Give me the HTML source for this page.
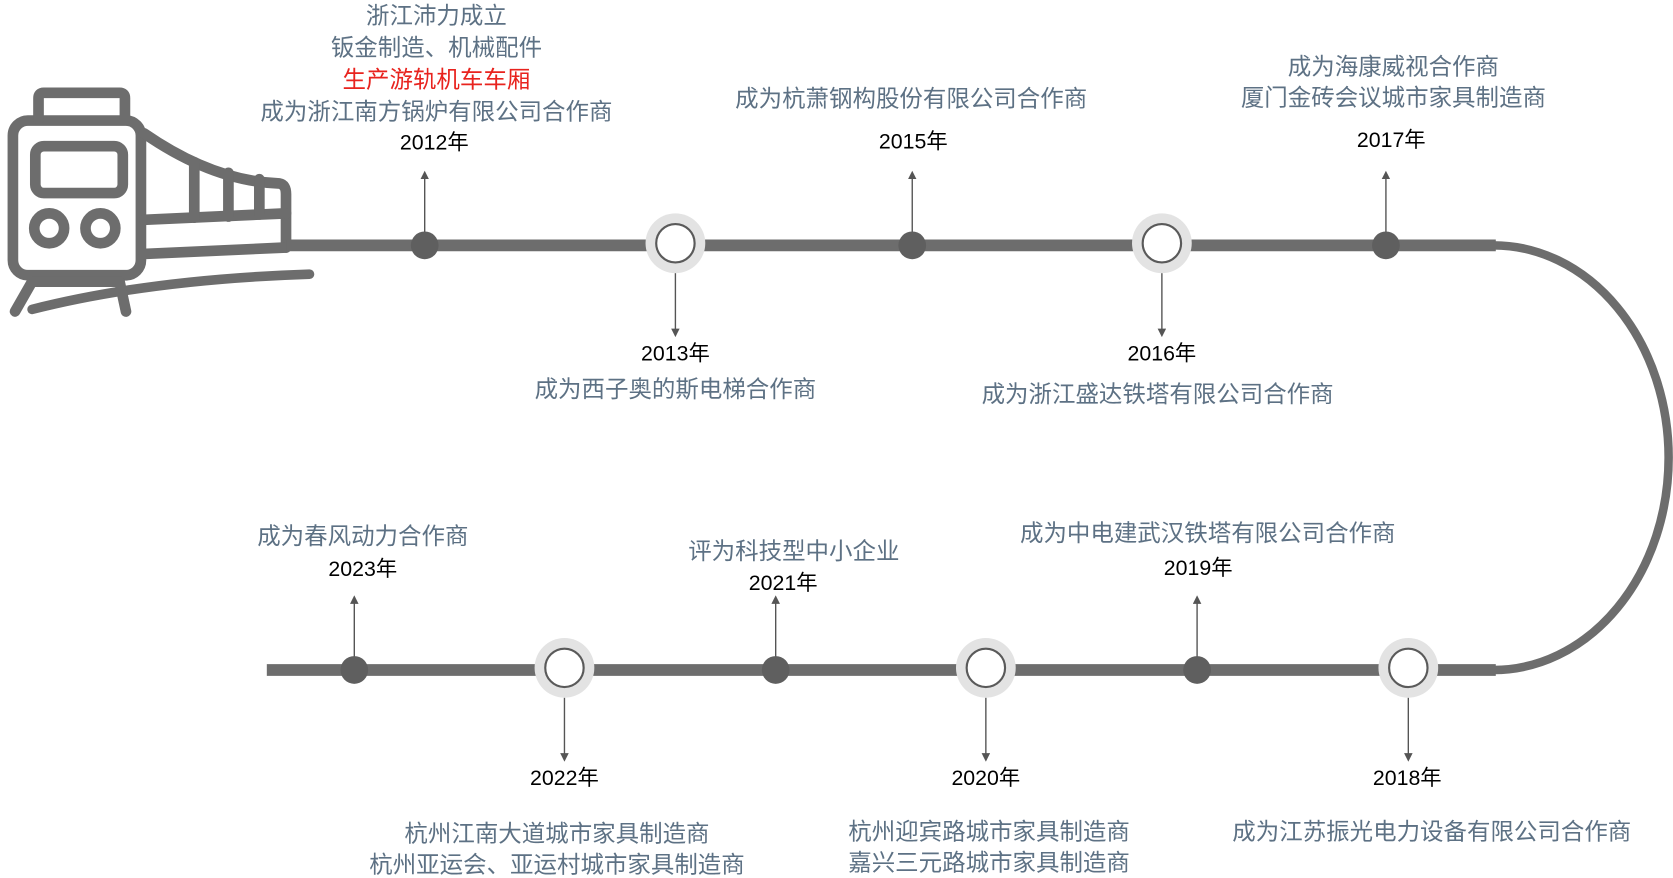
<!DOCTYPE html>
<html><head><meta charset="utf-8"><style>
html,body{margin:0;padding:0;background:#fff;width:1673px;height:878px;overflow:hidden}
svg{display:block}
text{font-family:"Liberation Sans","Noto Sans CJK SC",sans-serif;text-anchor:middle}
.d{fill:#5d7184;font-size:22px}
.y{fill:#000;font-size:20px}
.r{fill:#e8231e;font-size:22px}
</style></head><body>
<svg width="1673" height="878" viewBox="0 0 1568 823" xmlns="http://www.w3.org/2000/svg">
<defs><marker id="a" markerWidth="8" markerHeight="8" refX="4" refY="4" orient="auto" markerUnits="userSpaceOnUse"><path d="M0,0 L8,4 L0,8 z" fill="#555"/></marker></defs>
<!-- train -->
<g fill="none" stroke="#6d6d6d" stroke-width="10" stroke-linecap="round" stroke-linejoin="round">
<rect x="12" y="113" width="120" height="145" rx="14"/>
<path d="M36,112 L36,92 Q36,87 41,87 L112,87 Q117,87 117,92 L117,112"/>
<rect x="33" y="137" width="82" height="44" rx="8"/>
<circle cx="46" cy="214" r="14"/><circle cx="94" cy="214" r="14"/>
<path d="M135,125 Q200,170 262,172 Q268,173 268,182 L268,232"/>
<path d="M135,206 L268,200"/>
<path d="M135,238 L268,232"/>
<path d="M182,152 L182,204"/><path d="M214,162 L214,203"/><path d="M243,168 L243,201"/>
<path d="M30,290 Q140,262 290,257" stroke-width="9"/>
<path d="M14,292 L30,264 L112,264 L118,292"/>
</g>
<!-- track -->
<line x1="268" y1="230" x2="1402" y2="230" stroke="#6d6d6d" stroke-width="11"/>
<line x1="250" y1="628" x2="1402" y2="628" stroke="#6d6d6d" stroke-width="11"/>
<path d="M1400,230 A164,199 0 0 1 1400,628" fill="none" stroke="#6d6d6d" stroke-width="8"/>
<g stroke="#555" stroke-width="1.3" marker-end="url(#a)">
<line x1="398" y1="230" x2="398" y2="164"/>
<line x1="855" y1="230" x2="855" y2="164"/>
<line x1="1299" y1="230" x2="1299" y2="164"/>
<line x1="332" y1="628" x2="332" y2="562"/>
<line x1="727" y1="628" x2="727" y2="562"/>
<line x1="1122" y1="628" x2="1122" y2="562"/>
<line x1="633" y1="256" x2="633" y2="312"/>
<line x1="1089" y1="256" x2="1089" y2="312"/>
<line x1="529" y1="654" x2="529" y2="710"/>
<line x1="924" y1="654" x2="924" y2="710"/>
<line x1="1320" y1="654" x2="1320" y2="710"/>
</g>
<g fill="#5f5f5f">
<circle cx="398" cy="230" r="13"/><circle cx="855" cy="230" r="13"/><circle cx="1299" cy="230" r="13"/>
<circle cx="332" cy="628" r="13"/><circle cx="727" cy="628" r="13"/><circle cx="1122" cy="628" r="13"/>
</g>
<g>
<circle cx="633" cy="228" r="28" fill="#e3e3e3"/><circle cx="633" cy="228" r="18" fill="#fff" stroke="#5a5a5a" stroke-width="2"/>
<circle cx="1089" cy="228" r="28" fill="#e3e3e3"/><circle cx="1089" cy="228" r="18" fill="#fff" stroke="#5a5a5a" stroke-width="2"/>
<circle cx="529" cy="626" r="28" fill="#e3e3e3"/><circle cx="529" cy="626" r="18" fill="#fff" stroke="#5a5a5a" stroke-width="2"/>
<circle cx="924" cy="626" r="28" fill="#e3e3e3"/><circle cx="924" cy="626" r="18" fill="#fff" stroke="#5a5a5a" stroke-width="2"/>
<circle cx="1320" cy="626" r="28" fill="#e3e3e3"/><circle cx="1320" cy="626" r="18" fill="#fff" stroke="#5a5a5a" stroke-width="2"/>
</g>
<text class="d" x="409" y="22">浙江沛力成立</text>
<text class="d" x="409" y="52">钣金制造、机械配件</text>
<text class="r" x="409" y="82">生产游轨机车车厢</text>
<text class="d" x="409" y="112">成为浙江南方锅炉有限公司合作商</text>
<text class="y" x="407" y="140">2012年</text>

<text class="y" x="633" y="338">2013年</text>
<text class="d" x="633" y="372">成为西子奥的斯电梯合作商</text>

<text class="d" x="854" y="100">成为杭萧钢构股份有限公司合作商</text>
<text class="y" x="856" y="139">2015年</text>

<text class="y" x="1089" y="338">2016年</text>
<text class="d" x="1085" y="377">成为浙江盛达铁塔有限公司合作商</text>

<text class="d" x="1306" y="70">成为海康威视合作商</text>
<text class="d" x="1306" y="99">厦门金砖会议城市家具制造商</text>
<text class="y" x="1304" y="138">2017年</text>

<text class="y" x="1319" y="736">2018年</text>
<text class="d" x="1342" y="787">成为江苏振光电力设备有限公司合作商</text>

<text class="d" x="1132" y="507">成为中电建武汉铁塔有限公司合作商</text>
<text class="y" x="1123" y="539">2019年</text>

<text class="y" x="924" y="736">2020年</text>
<text class="d" x="927" y="787">杭州迎宾路城市家具制造商</text>
<text class="d" x="927" y="816">嘉兴三元路城市家具制造商</text>

<text class="d" x="744" y="524">评为科技型中小企业</text>
<text class="y" x="734" y="553">2021年</text>

<text class="y" x="529" y="736">2022年</text>
<text class="d" x="522" y="789">杭州江南大道城市家具制造商</text>
<text class="d" x="522" y="818">杭州亚运会、亚运村城市家具制造商</text>

<text class="d" x="340" y="510">成为春风动力合作商</text>
<text class="y" x="340" y="540">2023年</text>
</svg>
</body></html>
